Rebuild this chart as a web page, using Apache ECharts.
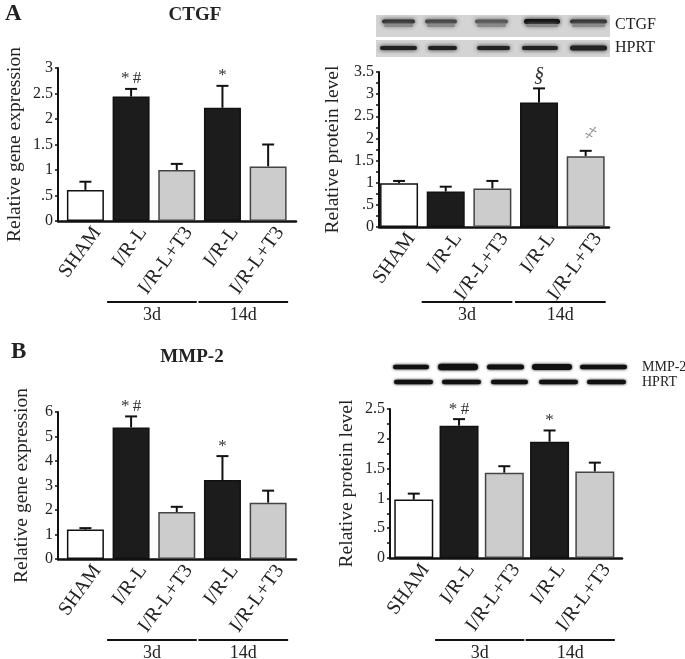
<!DOCTYPE html>
<html>
<head>
<meta charset="utf-8">
<script src="https://cdn.jsdelivr.net/npm/echarts@6/dist/echarts.min.js"></script>
<style>html,body{margin:0;padding:0;background:#fff;}#c{width:685px;height:659px;}</style>
</head>
<body>
<div id="c"></div>
<script>
// ---- data ----
const categories = ['SHAM', 'I/R-L', 'I/R-L+T3', 'I/R-L', 'I/R-L+T3'];
const groups = ['3d', '14d'];
const groupMembers = [[1, 2], [3, 4]];

const ctgfGene = [0.61, 2.44, 1.00, 2.22, 1.07];
const ctgfGeneErr = [0.16, 0.15, 0.12, 0.43, 0.43];
const ctgfGeneSig = ['', '*\u2009#', '', '*', ''];
const ctgfGeneTicks = ['0', '.5', '1', '1.5', '2', '2.5', '3'];

const ctgfProt = [0.99, 0.80, 0.87, 2.81, 1.60];
const ctgfProtErr = [0.05, 0.11, 0.17, 0.32, 0.12];
const ctgfProtSig = ['', '', '', '§', '‡'];
const ctgfProtTicks = ['0', '.5', '1', '1.5', '2', '2.5', '3', '3.5'];

const mmpGene = [1.20, 5.37, 1.92, 3.22, 2.30];
const mmpGeneErr = [0.06, 0.45, 0.21, 0.98, 0.49];
const mmpGeneSig = ['', '*\u2009#', '', '*', ''];
const mmpGeneTicks = ['0', '1', '2', '3', '4', '5', '6'];

const mmpProt = [0.98, 2.22, 1.43, 1.95, 1.45];
const mmpProtErr = [0.10, 0.11, 0.11, 0.19, 0.15];
const mmpProtSig = ['', '*\u2009#', '', '*', ''];
const mmpProtTicks = ['0', '.5', '1', '1.5', '2', '2.5'];

// ---- styling ----
const FONT = 'Liberation Serif';
const fills = ['#ffffff', '#1c1c1c', '#cccccc', '#1c1c1c', '#cccccc'];
const borders = ['#111111', '#111111', '#444444', '#111111', '#444444'];
const LABEL_SHIFT = 0.26;

const panels = [
  {grid: {left: 58, top: 68, width: 238, height: 153}, xmin: -0.60, xmax: 4.61, ymax: 3, interval: 0.5, ticks: ctgfGeneTicks, minor: false,
   vals: ctgfGene, errs: ctgfGeneErr, sig: ctgfGeneSig, barWidth: 37, name: 'Relative gene expression', nameGap: 33, groupDy: 81},
  {grid: {left: 379, top: 72, width: 230, height: 155}, xmin: -0.43, xmax: 4.50, ymax: 3.5, interval: 0.5, ticks: ctgfProtTicks, minor: true,
   vals: ctgfProt, errs: ctgfProtErr, sig: ctgfProtSig, barWidth: 38, name: 'Relative protein level', nameGap: 36, groupDy: 75},
  {grid: {left: 58, top: 412, width: 238, height: 147}, xmin: -0.60, xmax: 4.61, ymax: 6, interval: 1, ticks: mmpGeneTicks, minor: false,
   vals: mmpGene, errs: mmpGeneErr, sig: mmpGeneSig, barWidth: 37, name: 'Relative gene expression', nameGap: 26, groupDy: 81},
  {grid: {left: 390, top: 409, width: 232, height: 149}, xmin: -0.525, xmax: 4.60, ymax: 2.5, interval: 0.5, ticks: mmpProtTicks, minor: true,
   vals: mmpProt, errs: mmpProtErr, sig: mmpProtSig, barWidth: 39, name: 'Relative protein level', nameGap: 33, groupDy: 82}
];

const grid = [], xAxis = [], yAxis = [], series = [];
panels.forEach((p, k) => {
  grid.push(p.grid);
  xAxis.push({
    type: 'value', gridIndex: k, min: p.xmin, max: p.xmax,
    axisLine: {show: true, onZero: false, lineStyle: {color: '#111', width: 2.5}},
    axisTick: {show: false}, splitLine: {show: false},
    axisLabel: {
      customValues: categories.map((c, i) => i + LABEL_SHIFT),
      formatter: v => categories[Math.round(v - LABEL_SHIFT)],
      rotate: 54, fontFamily: FONT, fontSize: 20, color: '#222', margin: 8
    }
  });
  yAxis.push({
    type: 'value', gridIndex: k, min: 0, max: p.ymax, interval: p.interval,
    name: p.name, nameLocation: 'middle', nameGap: p.nameGap, nameRotate: 90,
    nameTextStyle: {fontFamily: FONT, fontSize: 19.5, color: '#222'},
    axisLine: {show: true, onZero: false, lineStyle: {color: '#111', width: 2}},
    axisTick: {show: true, inside: false, length: 3, lineStyle: {color: '#111', width: 1.5}},
    minorTick: {show: p.minor, splitNumber: 2, length: 3, lineStyle: {color: '#111', width: 1.5}},
    splitLine: {show: false},
    axisLabel: {
      formatter: v => p.ticks[Math.round(v / p.interval)],
      fontFamily: FONT, fontSize: 16, color: '#222', margin: 5
    }
  });
  series.push({
    type: 'bar', xAxisIndex: k, yAxisIndex: k, barWidth: p.barWidth,
    data: p.vals.map((v, i) => ({value: [i, v], itemStyle: {color: fills[i], borderColor: borders[i], borderWidth: 1.5}})),
    silent: true, animation: false
  });
  // error bars (upper only)
  series.push({
    type: 'custom', xAxisIndex: k, yAxisIndex: k, animation: false, silent: true,
    data: p.vals.map((v, i) => [i, v, p.errs[i]]),
    renderItem: (params, api) => {
      const x = api.value(0), v = api.value(1), e = api.value(2);
      const a = api.coord([x, v]), b = api.coord([x, v + e]);
      const st = {stroke: '#111', lineWidth: 2};
      return {type: 'group', children: [
        {type: 'line', shape: {x1: a[0], y1: a[1], x2: b[0], y2: b[1]}, style: st},
        {type: 'line', shape: {x1: b[0] - 6, y1: b[1], x2: b[0] + 6, y2: b[1]}, style: st}
      ]};
    }
  });
  // significance marks
  series.push({
    type: 'custom', xAxisIndex: k, yAxisIndex: k, animation: false, silent: true,
    data: p.vals.map((v, i) => [i, v + p.errs[i], i]),
    renderItem: (params, api) => {
      const i = api.value(2);
      const s = p.sig[i];
      if (!s) return null;
      const b = api.coord([api.value(0), api.value(1)]);
      const isDagger = s === '‡';
      const isSect = s === '§';
      return {
        type: 'text', x: b[0] + (isDagger ? 5 : 0), y: b[1] - (isDagger ? 18 : (isSect ? 13 : 10)),
        rotation: isDagger ? -0.5 : 0,
        style: {text: s, fontFamily: FONT, fontSize: isSect ? 20 : 17,
          fontStyle: (isSect || isDagger) ? 'italic' : 'normal',
          fill: isDagger ? '#888' : '#333', align: 'center', verticalAlign: 'middle'}
      };
    }
  });
  // time-group lines under the category labels
  series.push({
    type: 'custom', xAxisIndex: k, yAxisIndex: k, animation: false, silent: true, clip: false,
    data: groups.map((g, j) => [groupMembers[j][0], groupMembers[j][1], j]),
    renderItem: (params, api) => {
      const a = api.coord([api.value(0), 0]), b = api.coord([api.value(1), 0]);
      const y = a[1] + p.groupDy;
      const x1 = a[0] - 24, x2 = b[0] + 20;
      return {type: 'group', children: [
        {type: 'line', shape: {x1: x1, y1: y, x2: x2, y2: y}, style: {stroke: '#111', lineWidth: 2}},
        {type: 'text', x: (x1 + x2) / 2, y: y + 13, style: {text: groups[api.value(2)], fontFamily: FONT, fontSize: 18, fill: '#222', align: 'center', verticalAlign: 'middle'}}
      ]};
    }
  });
});

// ---- western blot strips (decorative) ----
function band(x1, x2, yc, h, color, blur) {
  return {type: 'rect', shape: {x: x1, y: yc - h / 2, width: x2 - x1, height: h, r: h / 2},
    style: {fill: color, shadowBlur: blur, shadowColor: color}, silent: true};
}
const blot = [];
blot.push({type: 'rect', shape: {x: 376, y: 15, width: 234, height: 22}, style: {fill: '#d4d4d4'}, silent: true});
blot.push({type: 'rect', shape: {x: 376, y: 40, width: 234, height: 17}, style: {fill: '#d4d4d4'}, silent: true});
[[382, 415, '#333'], [425, 457, '#444'], [475, 508, '#555'], [524, 560, '#111'], [570, 607, '#333']].forEach((b, i) => {
  blot.push(band(b[0], b[1], 21.5, i === 3 ? 5 : 4, b[2], 4));
  blot.push(band(b[0] + 2, b[1] - 2, 25.5, 3, '#8a8a8a', 4));
});
[[380, 417], [428, 457], [477, 510], [522, 558], [570, 607]].forEach((b, i) => {
  blot.push(band(b[0], b[1], 48, i === 4 ? 5 : 4, '#222', 4));
});
[[393, 429, 4.5], [438, 478, 6.5], [487, 524, 5], [532, 572, 6], [580, 627, 4.5]].forEach(b => {
  blot.push(band(b[0], b[1], 367, b[2], '#111', 3));
});
[[394, 433], [442, 481], [491, 528], [539, 578], [587, 626]].forEach(b => {
  blot.push(band(b[0], b[1], 382, 4.5, '#111', 3));
});
const txt = (t, x, y, size, weight, align) => ({type: 'text', x: x, y: y, silent: true,
  style: {text: t, fontFamily: FONT, fontSize: size, fontWeight: weight || 'normal', fill: '#222', align: align || 'left', verticalAlign: 'middle'}});
blot.push(txt('CTGF', 615, 25, 16));
blot.push(txt('HPRT', 615, 48, 16));
blot.push(txt('MMP-2', 642, 367, 14));
blot.push(txt('HPRT', 642, 382, 14));
blot.push(txt('A', 5, 14, 23, 'bold'));
blot.push(txt('CTGF', 195, 15, 19, 'bold', 'center'));
blot.push(txt('B', 11, 352, 23, 'bold'));
blot.push(txt('MMP-2', 192, 357, 19, 'bold', 'center'));

const chart = echarts.init(document.getElementById('c'), null, {renderer: 'canvas'});
chart.setOption({
  animation: false,
  backgroundColor: '#fff',
  grid: grid, xAxis: xAxis, yAxis: yAxis, series: series,
  graphic: blot
});
</script>
</body>
</html>
